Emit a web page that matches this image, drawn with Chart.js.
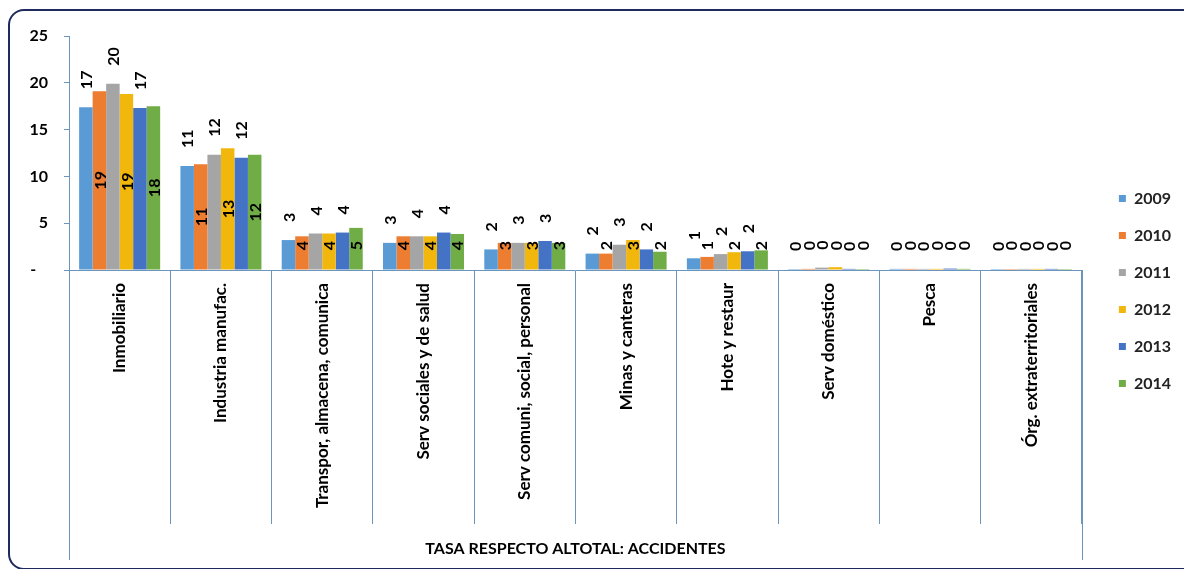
<!DOCTYPE html>
<html>
<head>
<meta charset="utf-8">
<title>Tasa respecto al total: accidentes</title>
<script src="https://cdn.jsdelivr.net/npm/chart.js@4.4.1/dist/chart.umd.min.js"></script>
<style>
    html, body { margin: 0; padding: 0; background: #fff; overflow: hidden; }
    #wrap { position: relative; width: 1184px; height: 569px; overflow: hidden; }
    #frame {
        position: absolute; left: 8px; top: 9px; width: 1200px; bottom: -1px;
        border: 2px solid #1f2b5e; border-radius: 16px; pointer-events: none;
    }
    canvas { position: absolute; left: 0; top: 0; }
</style>
</head>
<body>
<div id="wrap">
    <canvas id="chartCanvas" width="1184" height="569"></canvas>
    <div id="frame"></div>
</div>
<script>
// categories and values
const categories = [
    'Inmobiliario',
    'Industria manufac.',
    'Transpor, almacena, comunica',
    'Serv sociales y de salud',
    'Serv comuni, social, personal',
    'Minas y canteras',
    'Hote y restaur',
    'Serv doméstico',
    'Pesca',
    'Órg. extraterritoriales'
];
const years = ['2009', '2010', '2011', '2012', '2013', '2014'];

const v2009 = [17.4, 11.1, 3.2, 2.9, 2.2, 1.75, 1.25, 0.1, 0.12, 0.1];
const v2010 = [19.1, 11.3, 3.6, 3.6, 2.9, 1.75, 1.4, 0.12, 0.12, 0.1];
const v2011 = [19.9, 12.3, 3.9, 3.6, 2.9, 2.7, 1.7, 0.25, 0.12, 0.12];
const v2012 = [18.8, 13.0, 3.9, 3.6, 2.9, 3.2, 1.9, 0.3, 0.12, 0.12];
const v2013 = [17.3, 12.0, 4.0, 4.0, 3.1, 2.2, 2.0, 0.12, 0.15, 0.12];
const v2014 = [17.5, 12.3, 4.5, 3.85, 2.9, 1.95, 2.1, 0.1, 0.12, 0.1];

const yearValues = [v2009, v2010, v2011, v2012, v2013, v2014];
const seriesColors = ['#5b9bd5', '#ed7d31', '#a5a5a5', '#f2b70c', '#4472c4', '#70ad47'];
const axisTitle = 'TASA RESPECTO ALTOTAL: ACCIDENTES';
const yMax = 25;
const yStep = 5;

const axisColor = '#6b95bd';

Chart.defaults.font.family = "Lato, 'Open Sans', sans-serif";
Chart.defaults.color = '#000';

// value labels: odd years sit above the bar, even years in the middle
const barLabels = {
    id: 'barLabels',
    afterDatasetsDraw(chart) {
        const ctx = chart.ctx;
        ctx.save();
        ctx.font = "bold 16px Lato, 'Open Sans', sans-serif";
        ctx.fillStyle = '#000';
        ctx.textAlign = 'center';
        ctx.textBaseline = 'middle';
        chart.data.datasets.forEach((ds, d) => {
            const meta = chart.getDatasetMeta(d);
            meta.data.forEach((bar, i) => {
                const txt = String(Math.round(ds.data[i]));
                const w = ctx.measureText(txt).width;
                let cy;
                if (d % 2 === 0) {
                    cy = bar.y - 18 - w / 2;
                } else {
                    cy = Math.min((bar.y + bar.base) / 2, bar.base - 24);
                }
                ctx.save();
                ctx.translate(bar.x, cy);
                ctx.rotate(-Math.PI / 2);
                ctx.fillText(txt, 0, 1);
                ctx.restore();
            });
        });
        ctx.restore();
    }
};

// the two outer category lines run down past the separators
const outerLines = {
    id: 'outerLines',
    afterDraw(chart) {
        const xs = chart.scales.x;
        const ctx = chart.ctx;
        ctx.save();
        ctx.strokeStyle = axisColor;
        ctx.lineWidth = 1;
        [xs.left, xs.right].forEach(px => {
            const x = Math.round(px) + 0.5;
            ctx.beginPath();
            ctx.moveTo(x, xs.top);
            ctx.lineTo(x, xs.bottom - 2);
            ctx.stroke();
        });
        ctx.restore();
    }
};

const datasets = years.map((year, k) => ({
    label: year,
    data: yearValues[k],
    backgroundColor: seriesColors[k],
    borderWidth: 0,
    categoryPercentage: 0.8,
    barPercentage: 1.0,
    yAxisID: 'y'
}));

const chart = new Chart(document.getElementById('chartCanvas').getContext('2d'), {
    type: 'bar',
    data: { labels: categories, datasets: datasets },
    options: {
        responsive: false,
        animation: false,
        layout: { padding: { left: 9, top: 20, right: 3, bottom: 7 } },
        plugins: {
            title: { display: true, text: ' ', padding: 0, font: { size: 10, lineHeight: 1.6 } },
            tooltip: { enabled: false },
            legend: {
                position: 'right',
                labels: {
                    boxWidth: 7,
                    boxHeight: 7,
                    padding: 21,
                    color: '#222',
                    font: { size: 16, weight: 'bold' }
                }
            }
        },
        scales: {
            x: {
                grid: {
                    offset: true,
                    drawOnChartArea: false,
                    tickLength: 254,
                    color: axisColor
                },
                border: { color: axisColor },
                ticks: {
                    autoSkip: false,
                    minRotation: 90,
                    maxRotation: 90,
                    padding: -241,
                    color: '#000',
                    font: { size: 17, weight: 'bold' }
                },
                title: {
                    display: true,
                    text: axisTitle,
                    color: '#000',
                    padding: { top: 4, bottom: 4 },
                    font: { size: 16, weight: 'bold' }
                },
                afterFit(scale) { scale.height = 292; }
            },
            y: {
                min: 0,
                max: yMax,
                grid: {
                    drawOnChartArea: false,
                    tickLength: 5,
                    color: axisColor
                },
                border: { color: axisColor },
                ticks: {
                    stepSize: yStep,
                    padding: 16,
                    color: '#000',
                    font: { size: 16, weight: 'bold' },
                    callback: v => v === 0 ? '-   ' : v
                },
                afterFit(scale) { scale.width = 60; }
            },
            spacer: {
                type: 'linear',
                position: 'right',
                grid: { display: false },
                border: { display: false },
                ticks: { display: false },
                afterFit(scale) { scale.width = 16; }
            }
        }
    },
    plugins: [barLabels, outerLines]
});
</script>
</body>
</html>
